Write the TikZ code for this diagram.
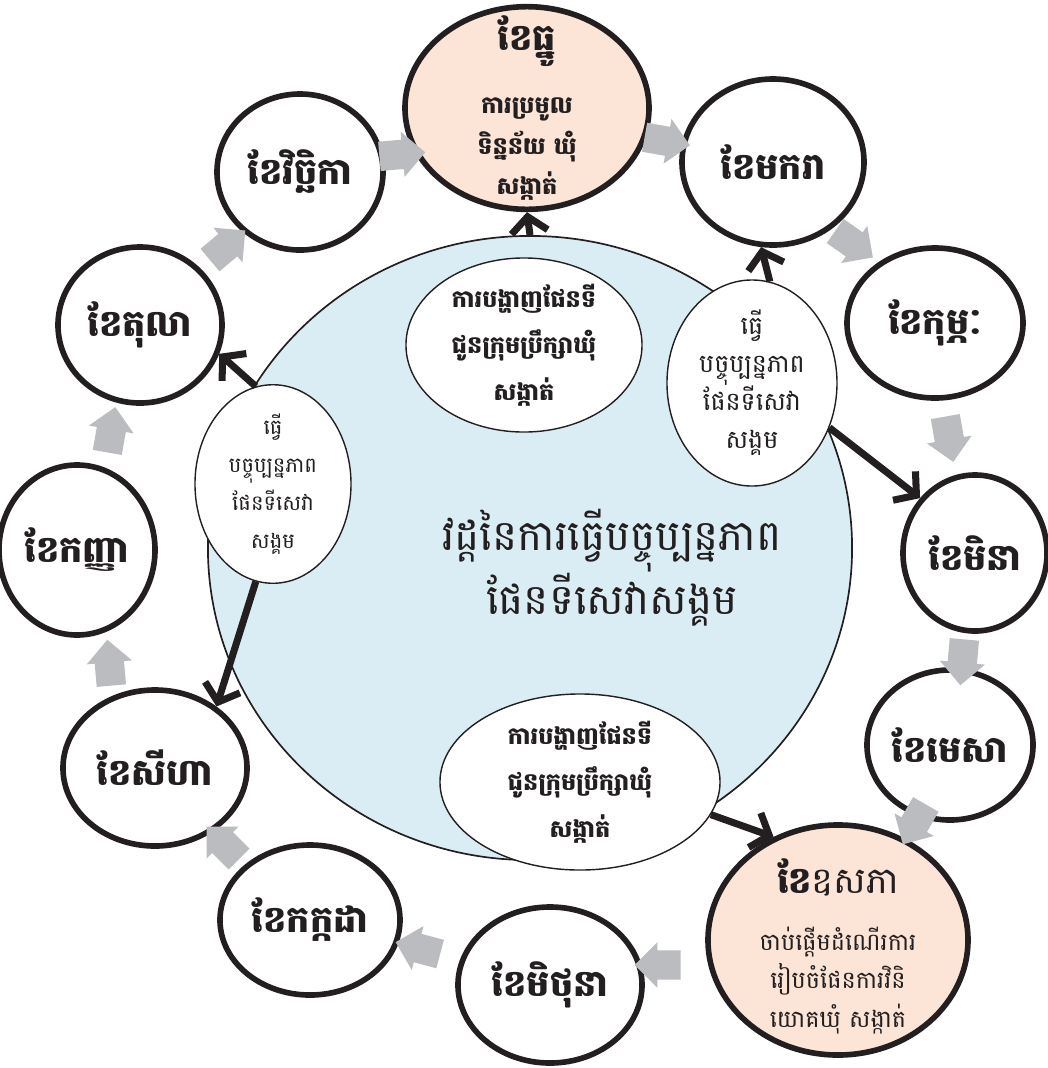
\documentclass[tikz,border=0pt]{standalone}
\usepackage{fontspec}
\newfontfamily\khmer[Script=Khmer]{Battambang}
\usetikzlibrary{shapes.geometric,shapes.arrows,arrows.meta}
\definecolor{peach}{RGB}{252,228,214}
\definecolor{skyfill}{RGB}{219,237,244}
\definecolor{flowgray}{RGB}{187,188,191}
\definecolor{ink}{RGB}{35,31,32}
\newcommand\monthhead{\khmer\bfseries\fontsize{26}{30}\selectfont}

\begin{document}
\begin{tikzpicture}[x=0.025cm,y=-0.025cm,line width=1pt]
\tikzstyle{month}=[draw=ink,ellipse,line width=4pt,fill=white,inner sep=0pt,align=center,text=ink,font=\monthhead];
\tikzstyle{keymonth}=[month,fill=peach,inner sep=-15pt];
\tikzstyle{task}=[draw=ink,ellipse,line width=1pt,fill=white,inner sep=0pt,align=center,text=ink];
\tikzstyle{dir}=[draw=ink,line width=5pt,-{Straight Barb[length=11pt,width=26pt]}];
\tikzstyle{flow}=[single arrow,fill=flowgray,draw=none,inner sep=0pt,text width=0pt,text height=0.35cm,text depth=0.35cm,minimum height=1.15cm,single arrow head extend=0.2cm];

\useasboundingbox (0,0) rectangle (1048,1068);

% central cycle
\node [draw=ink,ellipse,fill=skyfill,line width=1.2pt,minimum width=16.1cm,minimum height=15.6cm] (cycle) at (530,548) {};
\node [text=ink,align=center,font=\khmer\fontsize{30}{39}\selectfont] (title) at (612,568) {វដ្តនៃការធ្វើបច្ចុប្បន្នភាព\\ផែនទីសេវាសង្គម};

% months
\node [keymonth,font=\khmer\bfseries\fontsize{17}{29}\selectfont,minimum width=6.1cm,minimum height=5cm] (dec) at (527,108) {\monthhead ខែធ្នូ\\[16pt]ការប្រមូល\\ទិន្នន័យ ឃុំ\\សង្កាត់};
\node [month,minimum width=4.55cm,minimum height=4.15cm] (jan) at (773,162) {ខែមករា};
\node [month,minimum width=4.4cm,minimum height=3.75cm] (feb) at (935,323) {ខែកុម្ភៈ};
\node [month,minimum width=3.6cm,minimum height=3.9cm] (mar) at (975,553) {ខែមិនា};
\node [month,minimum width=4.15cm,minimum height=3.75cm] (apr) at (950,745) {ខែមេសា};
\node [keymonth,font=\khmer\fontsize{17}{27.5}\selectfont,minimum width=6.5cm,minimum height=5.75cm] (may) at (838,940) {\mbox{}\\[6pt]\monthhead ខែ\mdseries ឧសភា\\[13pt]ចាប់ផ្ដើមដំណើរការ\\រៀបចំផែនការវិនិ\\យោគឃុំ សង្កាត់};
\node [month,minimum width=4.6cm,minimum height=3.9cm] (jun) at (550,985) {ខែមិថុនា};
\node [month,minimum width=4.5cm,minimum height=3.75cm] (jul) at (310,920) {ខែកក្កដា};
\node [month,minimum width=4.6cm,minimum height=3.9cm] (aug) at (155,768) {ខែសីហា};
\node [month,minimum width=3.9cm,minimum height=4.25cm] (sep) at (77,550) {ខែកញ្ញា};
\node [month,minimum width=4.1cm,minimum height=3.9cm] (oct) at (140,325) {ខែតុលា};
\node [month,minimum width=4.15cm,minimum height=3.9cm] (nov) at (300,172) {ខែវិច្ឆិកា};

% tasks inside the cycle
\node [task,inner sep=-8pt,font=\khmer\bfseries\fontsize{17}{33}\selectfont,minimum width=5.9cm,minimum height=4.35cm] (showtop) at (524,345) {ការបង្ហាញផែនទី\\ជូនក្រុមប្រឹក្សាឃុំ\\សង្កាត់};
\node [task,font=\khmer\fontsize{18}{27}\selectfont,minimum width=4.25cm,minimum height=4.6cm] (updright) at (752,383) {ធ្វើ\\បច្ចុប្បន្នភាព\\ផែនទីសេវា\\សង្គម};
\node [task,font=\khmer\fontsize{15}{27}\selectfont,minimum width=3.9cm,minimum height=4.7cm] (updleft) at (273,484) {ធ្វើ\\បច្ចុប្បន្នភាព\\ផែនទីសេវា\\សង្គម};
\node [task,font=\khmer\bfseries\fontsize{17}{33}\selectfont,minimum width=7cm,minimum height=4.4cm] (showbot) at (580,782) {ការបង្ហាញផែនទី\\ជូនក្រុមប្រឹក្សាឃុំ\\សង្កាត់};

% black arrows
\draw [dir] (cycle.north) -- (dec.south);
\draw [dir] (updright.80) -- (jan.262);
\draw [dir] (updright.-30) -- (mar.135);
\draw [dir] (updleft.100) -- (oct.-20);
\draw [dir] (updleft.-100) -- (aug.45);
\draw [dir] (showbot.-14) -- (may.122);

% grey month to month arrows
\node [flow,rotate=5] (g1) at (395,155) {};
\node [flow,rotate=-10] (g2) at (660,140) {};
\node [flow,rotate=-35] (g3) at (848,240) {};
\node [flow,rotate=-80] (g4) at (948,432) {};
\node [flow,rotate=-95] (g5) at (963,655) {};
\node [flow,rotate=-120] (g6) at (918,818) {};
\node [flow,rotate=180] (g7) at (665,965) {};
\node [flow,rotate=165] (g8) at (425,950) {};
\node [flow,rotate=135] (g9) at (228,848) {};
\node [flow,rotate=95] (g10) at (110,670) {};
\node [flow,rotate=80] (g11) at (110,437) {};
\node [flow,rotate=40] (g12) at (222,250) {};
\end{tikzpicture}
\end{document}
